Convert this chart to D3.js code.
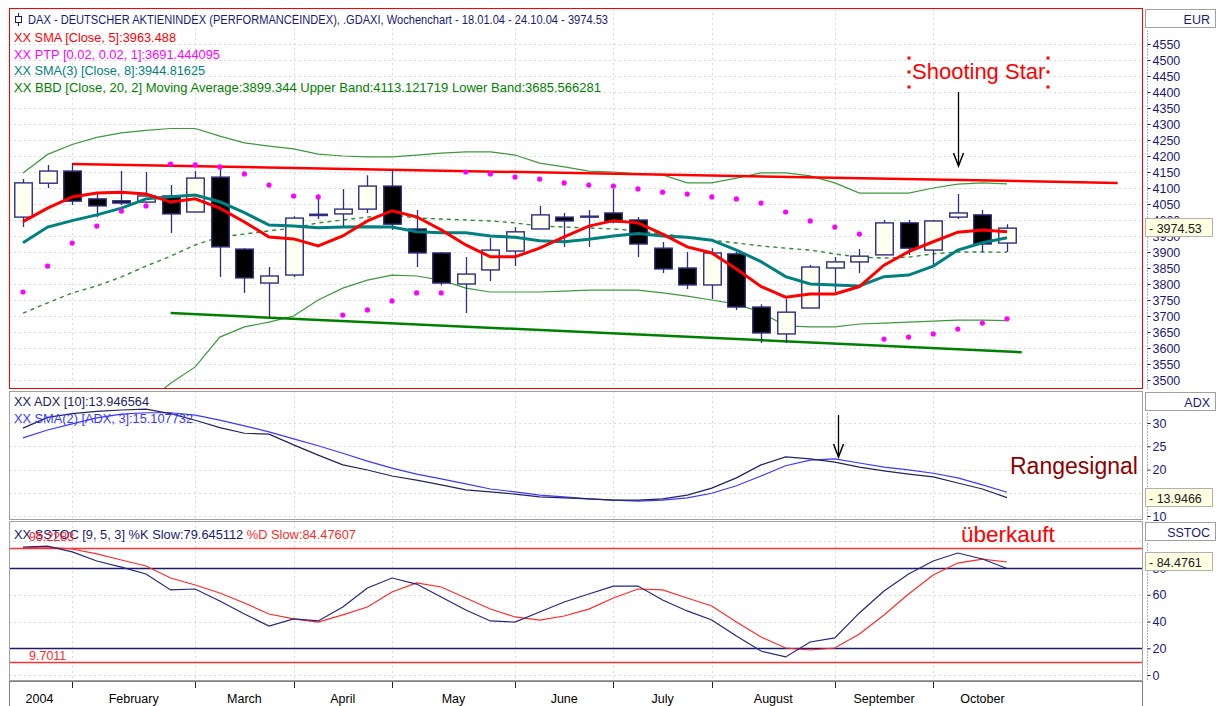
<!DOCTYPE html>
<html>
<head>
<meta charset="utf-8">
<script src="https://cdn.jsdelivr.net/npm/d3@7"></script>
<style>
  body { margin: 0; background: #fff; }
  text { font-family: "Liberation Sans", Arial, sans-serif; }
</style>
</head>
<body>
<svg id="chart" width="1217" height="706"></svg>
<script>
// weekly DAX candles, 18.01.04 - 24.10.04 (week index 0..40)
var open  = [4009,4115,4153,4066,4060,4056,4075,4025,4134,3909,3803,3828,4014,4019,4034,4106,3972,3897,3800,3844,3903,3972,4009,4009,4022,4000,3912,3850,3797,3894,3728,3644,3725,3850,3869,3891,3991,3906,4009,4016,3928];
var high  = [4128,4172,4178,4087,4153,4150,4109,4153,4166,3912,3853,4012,4075,4097,4140,4156,4031,3900,3884,3944,3978,4044,4022,4031,4097,4009,3931,3900,3912,3900,3737,3753,3859,3884,3909,4000,4000,4000,4081,4031,3987];
var low   = [3978,4100,4047,4009,4047,4053,3959,4025,3822,3772,3697,3822,4003,3975,4022,3969,3853,3795,3709,3809,3856,3972,3916,3916,3990,3884,3834,3784,3753,3719,3616,3616,3725,3775,3834,3891,3891,3853,4003,3900,3900];
var close = [4116,4153,4059,4044,4053,4075,4019,4131,3916,3819,3825,4006,4018,4034,4106,3987,3897,3803,3831,3906,3963,4016,3997,4012,3994,3925,3847,3797,3897,3728,3647,3712,3853,3869,3887,3991,3912,3997,4022,3925,3974.53];

var sma5  = [3995,4037,4072,4084,4087,4081,4056,4066,4037,3994,3947,3941,3919,3950,3997,4029,4010,3969,3922,3885,3885,3912,3947,3981,3998,3991,3956,3916,3897,3847,3792,3759,3769,3769,3792,3859,3901,3932,3962,3969,3963.5];
var sma8  = [3929,3978,3998,4016,4037,4066,4073,4078,4057,4023,3984,3981,3976,3978,3979,3978,3963,3960,3960,3950,3946,3935,3932,3940,3950,3958,3950,3946,3937,3906,3870,3823,3800,3797,3794,3823,3828,3856,3906,3929,3944.8];
var bbUpper = [4147,4205,4236,4258,4272,4280,4286,4286,4262,4241,4231,4222,4206,4200,4197,4197,4203,4209,4213,4213,4203,4178,4166,4153,4150,4144,4141,4116,4116,4131,4147,4147,4138,4116,4084,4084,4084,4100,4112,4116,4113.1];
var bbMid   = [3709,3741,3772,3794,3822,3856,3887,3922,3947,3956,3966,3975,3991,4000,4009,4016,4006,4003,4000,3997,3991,3981,3978,3975,3972,3966,3956,3947,3937,3928,3919,3912,3906,3894,3884,3881,3884,3894,3900,3900,3899.3];
var bbLower = [3270,3273,3300,3322,3366,3428,3490,3541,3634,3666,3681,3700,3750,3787,3812,3828,3825,3812,3787,3775,3775,3775,3778,3781,3781,3781,3772,3762,3750,3737,3712,3669,3666,3666,3675,3678,3681,3684,3687,3687,3685.6];
var sar = [3775,3856,3928,3981,4028,4044,4175,4172,4166,4144,4109,4075,4072,3703,3719,3747,3772,3772,4150,4144,4134,4128,4116,4109,4106,4097,4087,4081,4072,4066,4053,4025,3997,3978,3956,3628,3634,3644,3659,3678,3691.4];

// hand drawn trend lines [week, price]
var resistance = [[2, 4175], [44.5, 4116]];
var support = [[6, 3709], [40.6, 3587]];

var adx    = [28.9,31.2,32.0,32.5,32.8,33.0,32.0,30.6,29.0,27.8,27.6,25.3,23.1,21.0,19.9,18.6,17.7,16.7,15.6,15.2,14.7,14.1,13.9,13.7,13.4,13.4,13.7,14.5,16.0,18.2,21.0,22.7,22.3,21.6,20.5,19.7,19.0,18.4,17.1,15.8,13.95];
var adxSma = [26.8,28.5,29.8,31.1,31.9,32.2,32.2,31.7,30.6,29.4,28.1,26.6,25.1,23.5,21.8,20.3,19.0,18.0,16.9,15.8,15.2,14.5,14.1,13.7,13.4,13.2,13.4,13.9,14.9,16.5,18.6,20.8,22.0,22.3,21.4,20.5,19.9,19.2,18.2,16.7,15.1];

var stochK = [95.7,96.4,92.0,85.2,80.7,75.5,63.6,64.3,55.3,45.6,36.6,41.9,40.4,50.8,65.0,72.5,68.0,58.3,48.6,40.4,39.6,47.1,54.6,60.6,66.5,66.5,56.1,47.9,41.1,29.2,17.9,13.5,24.7,27.7,46.4,62.8,75.5,85.2,91.2,86.7,79.6];
var stochD = [95.0,95.7,94.2,90.5,86.0,81.5,72.5,67.3,61.3,53.8,45.6,41.9,39.6,44.9,50.8,62.1,68.8,65.8,57.6,49.3,43.4,41.1,44.1,49.3,57.6,64.3,63.6,57.6,51.6,39.6,28.4,20.2,18.7,20.2,30.7,44.9,60.6,74.8,83.7,86.7,84.5];
var stochMax = 95.2283, stochMin = 9.7011;

// axis ticks
var monthStarts = [-2, 2, 7, 11, 15, 20, 24, 28, 33, 37, 41];
var monthLabels = ["2004", "February", "March", "April", "May", "June", "July", "August", "September", "October"];
var priceTicks = d3.range(3500, 4551, 50);
var adxTicks = [10, 15, 20, 25, 30];
var stochTicks = [0, 20, 40, 60, 80];

var svg = d3.select("#chart");
var left = 9.5, right = 1142.5;
var navy = "#1a1a70", grid = "#b4b4b4";

var x = d3.scaleLinear().domain([0, 40]).range([23, 1007]);
var yMain = d3.scaleLinear().domain([3500, 4550]).range([380, 44]);
var yAdx = d3.scaleLinear().domain([10, 30]).range([516, 423]);
var yStoc = d3.scaleLinear().domain([0, 80]).range([675, 568]);

var panels = [
  { name: "main", top: 8.5, bottom: 388.5, y: yMain, ticks: priceTicks, head: "EUR", border: "#ff0000" },
  { name: "adx", top: 391.5, bottom: 519.5, y: yAdx, ticks: adxTicks, head: "ADX", border: "#a0a0a0" },
  { name: "stoc", top: 521.5, bottom: 680.5, y: yStoc, ticks: stochTicks.concat([100]), head: "SSTOC", border: "#a0a0a0" }
];

var defs = svg.append("defs");
panels.forEach(function(p) {
  defs.append("clipPath").attr("id", "clip-" + p.name)
    .append("rect").attr("x", left).attr("y", p.top).attr("width", right - left).attr("height", p.bottom - p.top);
});

// grid + frames
panels.forEach(function(p) {
  var g = svg.append("g").attr("clip-path", "url(#clip-" + p.name + ")");
  g.selectAll(".hg").data(p.ticks).enter().append("line")
    .attr("x1", left).attr("x2", right)
    .attr("y1", function(d) { return Math.round(p.y(d)) + 0.5; })
    .attr("y2", function(d) { return Math.round(p.y(d)) + 0.5; })
    .attr("stroke", grid).attr("stroke-dasharray", "1,4");
  g.selectAll(".vg").data(monthStarts.slice(1, -1)).enter().append("line")
    .attr("x1", function(d) { return Math.round(x(d)) + 0.5; })
    .attr("x2", function(d) { return Math.round(x(d)) + 0.5; })
    .attr("y1", p.top).attr("y2", p.bottom)
    .attr("stroke", grid).attr("stroke-dasharray", "1,4");
});

// ---------- main panel ----------
var gm = svg.append("g").attr("clip-path", "url(#clip-main)");

function priceLine(arr) {
  return d3.line().x(function(d, i) { return x(i); }).y(function(d) { return yMain(d); })(arr);
}

gm.append("path").attr("d", priceLine(bbUpper)).attr("fill", "none").attr("stroke", "#3c9a3c").attr("stroke-width", 1.2);
gm.append("path").attr("d", priceLine(bbLower)).attr("fill", "none").attr("stroke", "#3c9a3c").attr("stroke-width", 1.2);
gm.append("path").attr("d", priceLine(bbMid)).attr("fill", "none").attr("stroke", "#2e8b2e").attr("stroke-width", 1.4)
  .attr("stroke-dasharray", "4,4");

var trend = d3.line().x(function(d) { return x(d[0]); }).y(function(d) { return yMain(d[1]); });
gm.append("path").attr("d", trend(resistance)).attr("stroke", "#ff0000").attr("stroke-width", 2.5).attr("fill", "none");
gm.append("path").attr("d", trend(support)).attr("stroke", "#008000").attr("stroke-width", 2.5).attr("fill", "none");

// candles
var bw = 17.5;
var idx = d3.range(open.length);
gm.selectAll(".wick").data(idx).enter().append("line")
  .attr("x1", function(i) { return Math.round(x(i)) + 0.5; })
  .attr("x2", function(i) { return Math.round(x(i)) + 0.5; })
  .attr("y1", function(i) { return yMain(high[i]); })
  .attr("y2", function(i) { return yMain(low[i]); })
  .attr("stroke", "#2e2e80").attr("stroke-width", 1.3);
gm.selectAll(".body").data(idx).enter().append("rect")
  .attr("x", function(i) { return Math.round(x(i)) + 0.5 - bw / 2; })
  .attr("width", bw)
  .attr("y", function(i) { return yMain(Math.max(open[i], close[i])); })
  .attr("height", function(i) { return Math.max(1, Math.abs(yMain(open[i]) - yMain(close[i]))); })
  .attr("fill", function(i) { return close[i] >= open[i] ? "#fffff0" : "#000000"; })
  .attr("stroke", "#2e2e80").attr("stroke-width", 1.4);

gm.append("path").attr("d", priceLine(sma8)).attr("fill", "none").attr("stroke", "#008080").attr("stroke-width", 3);
gm.append("path").attr("d", priceLine(sma5)).attr("fill", "none").attr("stroke", "#ff0000").attr("stroke-width", 3);

gm.selectAll(".sar").data(sar).enter().append("circle")
  .attr("cx", function(d, i) { return x(i); })
  .attr("cy", function(d) { return yMain(d); })
  .attr("r", 2.6).attr("fill", "#ff00ff");

// ---------- ADX panel ----------
var ga = svg.append("g").attr("clip-path", "url(#clip-adx)");
var adxLine = d3.line().x(function(d, i) { return x(i); }).y(function(d) { return yAdx(d); });
ga.append("path").attr("d", adxLine(adxSma)).attr("fill", "none").attr("stroke", "#3a3aff").attr("stroke-width", 1.2);
ga.append("path").attr("d", adxLine(adx)).attr("fill", "none").attr("stroke", "#23235e").attr("stroke-width", 1.2);

// ---------- SSTOC panel ----------
var gs = svg.append("g").attr("clip-path", "url(#clip-stoc)");
[[stochMax, "#ff3030"], [80, navy], [20, navy], [stochMin, "#ff3030"]].forEach(function(l) {
  var yy = Math.round(yStoc(l[0])) + 0.5;
  gs.append("line").attr("x1", left).attr("x2", right).attr("y1", yy).attr("y2", yy)
    .attr("stroke", l[1]).attr("stroke-width", 1.3);
});
var stLine = d3.line().x(function(d, i) { return x(i); }).y(function(d) { return yStoc(d); });
gs.append("path").attr("d", stLine(stochD)).attr("fill", "none").attr("stroke", "#ff2a2a").attr("stroke-width", 1.2);
gs.append("path").attr("d", stLine(stochK)).attr("fill", "none").attr("stroke", "#262680").attr("stroke-width", 1.2);

// panel frames
panels.forEach(function(p) {
  svg.append("rect").attr("x", left).attr("y", p.top).attr("width", right - left).attr("height", p.bottom - p.top)
    .attr("fill", "none").attr("stroke", p.border);
});

// ---------- right axes ----------
panels.forEach(function(p) {
  svg.append("rect").attr("x", 1145.5).attr("y", p.top + 1).attr("width", 70).attr("height", 18)
    .attr("fill", "#fff").attr("stroke", "#a0a0a0");
  svg.append("text").attr("x", 1210).attr("y", p.top + 15).attr("text-anchor", "end")
    .attr("font-size", 12.5).attr("fill", navy).text(p.head);
  svg.append("line").attr("x1", 1147.5).attr("x2", 1147.5).attr("y1", p.top + 22).attr("y2", p.bottom)
    .attr("stroke", "#5a5a9a").attr("stroke-dasharray", "1,2");
  var ax = svg.append("g").attr("transform", "translate(1147.5,0)")
    .call(d3.axisRight(p.y).tickValues(p.ticks.filter(function(t) { return t !== 100; })).tickSize(3).tickPadding(2).tickFormat(d3.format("d")));
  ax.select(".domain").remove();
  ax.selectAll("line").attr("stroke", navy);
  ax.selectAll("text").attr("font-size", 12.5).attr("fill", navy).style("font-family", "'Liberation Sans', Arial, sans-serif");
});

function priceTag(yPos, label) {
  var yy = Math.round(yPos);
  svg.append("rect").attr("x", 1145.5).attr("y", yy - 9.5).attr("width", 67).attr("height", 18)
    .attr("fill", "#ffffe1").attr("stroke", "#b0b0b0");
  svg.append("text").attr("x", 1149).attr("y", yy + 5).attr("font-size", 12.5).attr("fill", "#202020").text("- " + label);
}
priceTag(yMain(close[close.length - 1]), "3974.53");
priceTag(yAdx(adx[adx.length - 1]), "13.9466");
priceTag(yStoc(stochD[stochD.length - 1]), "84.4761");

// ---------- x axis ----------
svg.append("line").attr("x1", left).attr("x2", right).attr("y1", 681.5).attr("y2", 681.5).attr("stroke", "#808080");
svg.append("line").attr("x1", left).attr("x2", left).attr("y1", 681).attr("y2", 706).attr("stroke", "#808080");
svg.append("line").attr("x1", right).attr("x2", right).attr("y1", 681).attr("y2", 706).attr("stroke", "#808080");
svg.selectAll(".mt").data(monthStarts.slice(1, -1)).enter().append("line")
  .attr("x1", function(d) { return Math.round(x(d)) + 0.5; })
  .attr("x2", function(d) { return Math.round(x(d)) + 0.5; })
  .attr("y1", 682).attr("y2", 688).attr("stroke", "#202020");
svg.selectAll(".ml").data(monthLabels).enter().append("text")
  .attr("x", function(d, i) {
    var mid = x((monthStarts[i] + monthStarts[i + 1]) / 2);
    return Math.max(mid, left + 30);
  })
  .attr("y", 703).attr("text-anchor", "middle").attr("font-size", 12.5).attr("fill", "#000")
  .text(function(d) { return d; });

// ---------- legends ----------
function legend(xPos, yPos, width, parts) {
  var t = svg.append("text").attr("x", xPos).attr("y", yPos).attr("font-size", 12.5)
    .attr("textLength", width).attr("lengthAdjust", "spacingAndGlyphs");
  parts.forEach(function(p) { t.append("tspan").attr("fill", p[1]).text(p[0]); });
  return t;
}
// candle icon
svg.append("line").attr("x1", 18.5).attr("x2", 18.5).attr("y1", 13).attr("y2", 26).attr("stroke", navy);
svg.append("rect").attr("x", 15.5).attr("y", 16.5).attr("width", 6).attr("height", 6).attr("fill", "#fff").attr("stroke", navy);
legend(28, 24, 580, [["DAX  - DEUTSCHER AKTIENINDEX (PERFORMANCEINDEX), .GDAXI, Wochenchart - 18.01.04 - 24.10.04 - 3974.53", navy]]);
legend(14, 42, 162, [["XX SMA [Close, 5]:3963.488", "#ff0000"]]);
legend(14, 59, 206, [["XX PTP [0.02, 0.02, 1]:3691.444095", "#ff00ff"]]);
legend(14, 75, 191, [["XX SMA(3) [Close, 8]:3944.81625", "#008080"]]);
legend(14, 92, 587, [["XX BBD [Close, 20, 2] Moving Average:3899.344 Upper Band:4113.121719 Lower Band:3685.566281", "#008000"]]);

legend(14, 406, 135, [["XX ADX [10]:13.946564", "#23235e"]]);
legend(14, 423, 179, [["XX SMA(2) [ADX, 3]:15.107732", "#3a3aff"]]);

legend(14, 539, 342, [["XX SSTOC [9, 5, 3] %K Slow:79.645112 ", navy], ["%D Slow:84.47607", "#ff2a2a"]]);
svg.append("text").attr("x", 29).attr("y", 541).attr("font-size", 12.5).attr("fill", "#ff2a2a").text("95.2283");
svg.append("text").attr("x", 29).attr("y", 660).attr("font-size", 12.5).attr("fill", "#ff2a2a").text("9.7011");

// ---------- annotations ----------
svg.append("text").attr("x", 912).attr("y", 79).attr("font-size", 22).attr("fill", "#ff0000").text("Shooting Star");
[[909, 58], [1048, 58], [909, 87], [1048, 87], [909, 72], [1048, 72]].forEach(function(c) {
  svg.append("rect").attr("x", c[0] - 1.5).attr("y", c[1] - 1.5).attr("width", 3).attr("height", 3).attr("fill", "#ff0000");
});
function arrow(ax, y1, y2) {
  svg.append("line").attr("x1", ax).attr("x2", ax).attr("y1", y1).attr("y2", y2).attr("stroke", "#000").attr("stroke-width", 1.3);
  svg.append("path").attr("d", "M" + (ax - 5) + "," + (y2 - 13) + "L" + ax + "," + y2 + "L" + (ax + 5) + "," + (y2 - 13))
    .attr("fill", "none").attr("stroke", "#000").attr("stroke-width", 1.5);
}
arrow(958.5, 92, 166);
arrow(838.5, 415, 457);
svg.append("text").attr("x", 1010).attr("y", 474).attr("font-size", 23).attr("fill", "#8b0000").text("Rangesignal");
svg.append("text").attr("x", 961).attr("y", 542).attr("font-size", 22.5).attr("fill", "#ff0000").text("überkauft");
</script>
</body>
</html>
